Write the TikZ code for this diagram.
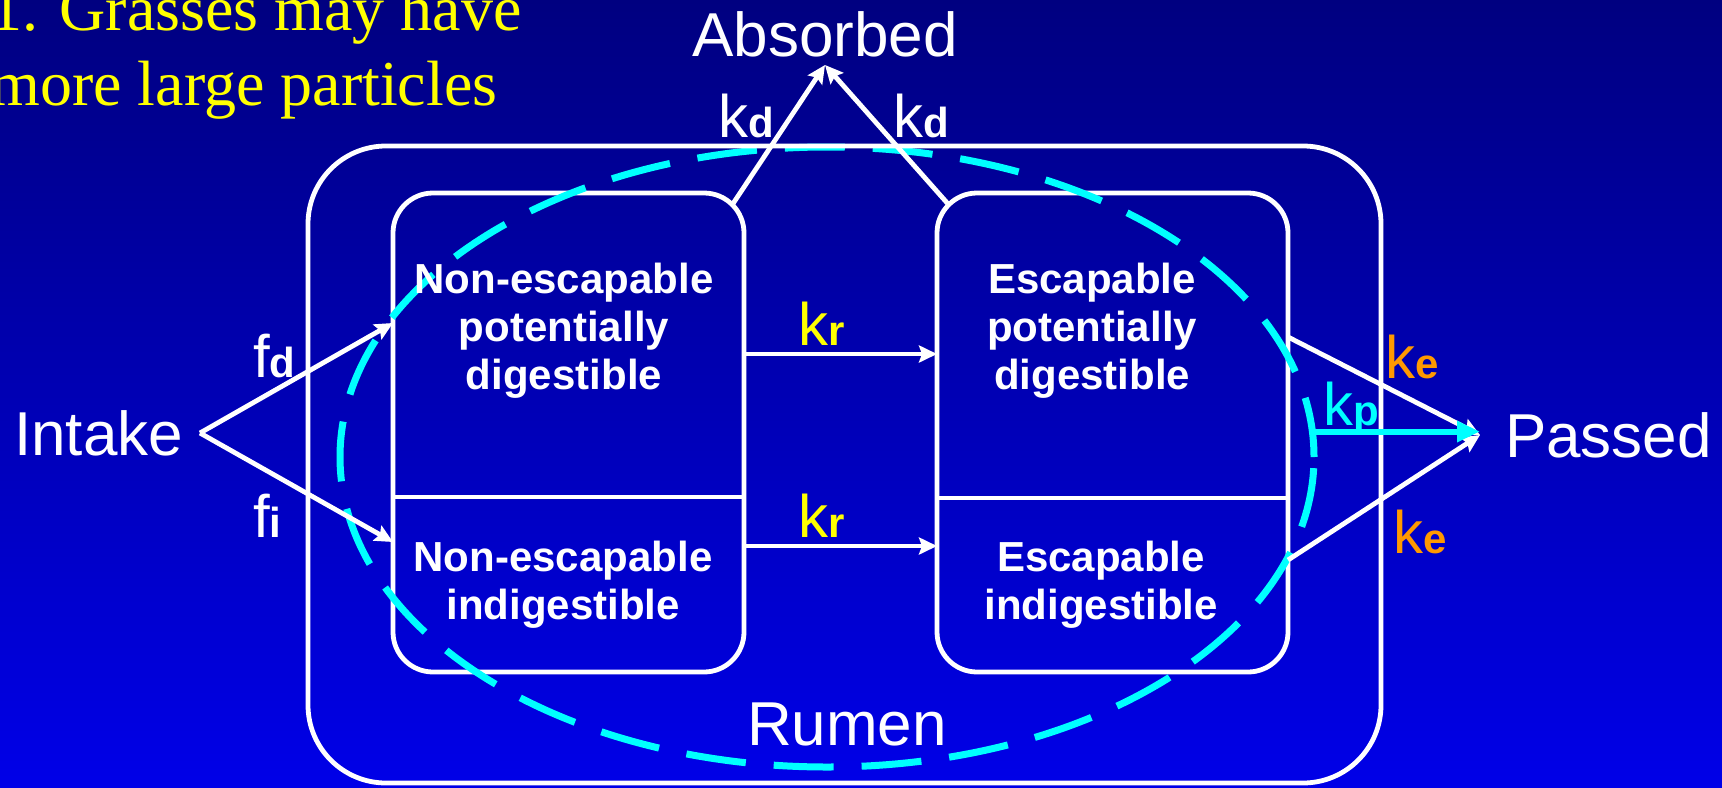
\documentclass[tikz,border=0pt]{standalone}
\usepackage{fontspec}
\setmainfont{Liberation Sans}
\newfontfamily\serifT{Liberation Serif}
\usetikzlibrary{arrows.meta,shapes.geometric}
\definecolor{navytop}{RGB}{0,0,128}
\definecolor{bluebot}{RGB}{0,0,232}
\definecolor{kyellow}{RGB}{255,255,0}
\definecolor{korange}{RGB}{255,153,0}
\definecolor{kcyan}{RGB}{0,255,255}
\newcommand\ksub[2]{{\fontsize{30}{30}\selectfont #1}{\fontsize{21}{21}\selectfont\bfseries #2}}
\begin{document}
\begin{tikzpicture}[x=0.5pt,y=-0.5pt,
  wline/.style={draw=white, line width=2.4pt},
  warrow/.style={wline, -{Stealth[length=9pt,width=8.5pt,inset=1.5pt]}},
  carrow/.style={draw=kcyan, line width=3pt, -{Triangle[length=11.5pt,width=10pt]}},
  cbox/.style={draw=white, line width=2.4pt, rounded corners=20pt, minimum width=175.5pt, minimum height=239.5pt, inner sep=0pt, outer sep=0pt},
  boxtext/.style={text=white, font=\fontsize{21}{24}\selectfont\bfseries, align=center, inner sep=0pt},
  biglabel/.style={text=white, font=\fontsize{31}{31}\selectfont, outer sep=0pt},
  ratelabel/.style={anchor=base west, inner sep=0pt, outer sep=0pt},
]
\useasboundingbox (0,0) rectangle (1722,787);
\shade[top color=navytop, bottom color=bluebot] (0,0) rectangle (1722,787);

% title
\node[anchor=north west, inner sep=0pt, text=kyellow, font=\serifT\fontsize{32}{37.5}\selectfont, align=left] (title) at (-10,-14) {1. Grasses may have\\more large particles};

% compartments
\node[cbox] (lbox) at (568.5,432.5) {};
\node[cbox] (rbox) at (1112.5,432.5) {};
\draw[wline] ([yshift=-32.25pt]lbox.west) -- ([yshift=-32.25pt]lbox.east);
\draw[wline] ([yshift=-32.75pt]rbox.west) -- ([yshift=-32.75pt]rbox.east);

% dashed ellipse
\node[ellipse, draw=kcyan, line width=3.5pt, dash pattern=on 30pt off 14pt, minimum width=487pt, minimum height=310pt, inner sep=0pt, outer sep=0pt] (ell) at (827,457) {};

% rumen
\node[draw=white, line width=2.4pt, rounded corners=39pt, minimum width=536.5pt, minimum height=318.5pt, inner sep=0pt, outer sep=0pt] (rumen) at (844.5,464.5) {};
\node[biglabel, anchor=base west, inner sep=0pt] (rumenlbl) at (747,745) {Rumen};

% main labels
\node[biglabel, anchor=east, inner xsep=8.5pt, inner ysep=0pt] (intake) at (200,433) {Intake};
\node[biglabel, anchor=west, inner xsep=12.5pt, inner ysep=0pt] (passed) at (1480,435) {Passed};
\node[biglabel, anchor=south, inner ysep=4pt] (absorbed) at (825,65) {Absorbed};

% box texts
\node[boxtext] (t1) at (564,331) {Non-escapable\\potentially\\digestible};
\node[boxtext] (t2) at (563,585) {Non-escapable\\indigestible};
\node[boxtext] (t3) at (1092,331) {Escapable\\potentially\\digestible};
\node[boxtext] (t4) at (1101,585) {Escapable\\indigestible};

% arrows
\draw[warrow] (intake.east) -- ([yshift=54.75pt]lbox.west);
\draw[warrow] (intake.east) -- ([yshift=-54.75pt]lbox.west);
\draw[warrow] ([yshift=39.25pt]lbox.east) -- ([yshift=39.25pt]rbox.west);
\draw[warrow] ([yshift=-56.75pt]lbox.east) -- ([yshift=-56.75pt]rbox.west);
\draw[warrow] ([shift={(-11.7,11.7)}]lbox.north east) -- (absorbed.south);
\draw[warrow] ([shift={(11.7,11.7)}]rbox.north west) -- (absorbed.south);
\draw[warrow] ([yshift=47.75pt]rbox.east) -- (passed.west);
\draw[warrow] ([yshift=-63.75pt]rbox.east) -- (passed.west);
\draw[carrow] (ell.3) -- (ell.3 -| passed.west);

% rate labels
\node[ratelabel, text=white] (fd) at (253,377) {\ksub{f}{d}};
\node[ratelabel, text=white] (fi) at (253,537) {\ksub{f}{i}};
\node[ratelabel, text=white] (kdl) at (718,137) {\ksub{k}{d}};
\node[ratelabel, text=white] (kdr) at (893,137) {\ksub{k}{d}};
\node[ratelabel, text=kyellow] (kra) at (798,345) {\ksub{k}{r}};
\node[ratelabel, text=kyellow] (krb) at (798,537) {\ksub{k}{r}};
\node[ratelabel, text=korange] (kea) at (1385,378) {\ksub{k}{e}};
\node[ratelabel, text=korange] (keb) at (1393,553) {\ksub{k}{e}};
\node[ratelabel, text=kcyan] (kp) at (1323,425) {\ksub{k}{p}};
\end{tikzpicture}
\end{document}
